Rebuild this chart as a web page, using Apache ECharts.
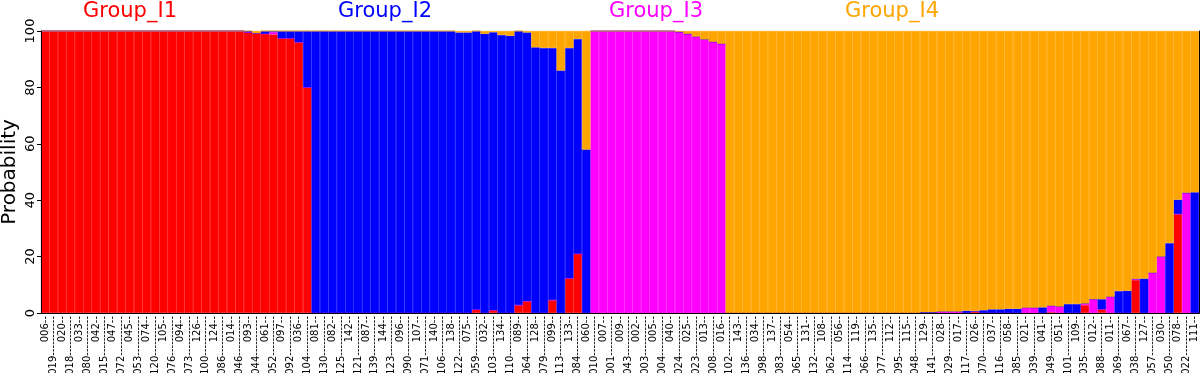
<!DOCTYPE html>
<html>
<head>
<meta charset="utf-8">
<script src="https://cdn.jsdelivr.net/npm/echarts@6/dist/echarts.min.js"></script>
<style>
  html, body { margin: 0; padding: 0; background: #fff; }
  #chart { width: 1200px; height: 373px; }
</style>
</head>
<body>
<div id="chart"></div>
<script>
// sample order as on the x axis
const samples = [
  "006","019","020","018","033","080","042","015","047","072",
  "045","053","074","120","105","076","094","073","126","100",
  "124","086","014","046","093","044","061","052","097","092",
  "036","104","081","130","082","125","142","121","087","139",
  "144","123","096","090","107","071","140","106","138","122",
  "075","059","032","103","134","110","089","064","128","079",
  "099","113","133","084","060","010","007","001","009","043",
  "002","003","005","004","040","024","025","023","013","008",
  "016","102","143","136","034","098","137","083","054","065",
  "131","132","108","062","056","114","119","066","135","077",
  "112","095","115","048","129","141","028","029","017","117",
  "026","070","037","116","058","085","021","039","041","049",
  "051","101","109","035","012","088","011","069","067","038",
  "127","057","030","050","078","022","111"
];

// membership probability (%) per cluster
const red = [
  100,100,100,100,100,100,100,100,100,100,
  100,100,100,100,100,100,100,100,100,100,
  100,100,100,100,99.5,99.2,99,98.8,97.4,97.4,
  96,80,0,0,0,0,0,0,0,0,
  0,0,0,0,0,0,0,0,0,0,
  0,1.2,0,1,0,0,2.8,4.2,0,0,
  4.6,0,12.3,21,0,0,0,0,0,0,
  0,0,0,0,0,0,0,0,0,0,
  0,0,0,0,0,0,0,0,0,0,
  0,0,0,0,0,0,0,0,0,0,
  0,0,0,0,0,0,0,0,0,0,
  0.5,0,0,0,0,0,0,0,0,0.3,
  0,0,0,2.8,0,1.3,0,0,0,11.7,
  0,0,0,0,35.1,0,0
];
const magenta = [
  0,0,0,0,0,0,0,0,0,0,
  0,0,0,0,0,0,0,0,0,0,
  0,0,0,0,0,0,0,0.8,0,0,
  0,0,0,0,0,0,0,0,0,0,
  0,0,0,0,0,0,0,0,0,0,
  0,0,0,0,0,0,0,0,0,0,
  0,0,0,0,0,100,100,100,100,100,
  100,100,100,100,100,99.7,99,98,97,96.2,
  95.5,0,0,0,0,0,0,0,0,0,
  0,0,0,0,0,0,0,0,0,0,
  0,0,0,0,0,0,0.5,0.5,0.5,0,
  0,0,0,0,0,0,1.9,1.9,0,2.3,
  2.3,0,0,0.6,4.9,0,5.8,0,0,0.4,
  0,14.3,20,0,0,42.6,0
];
const blue = [
  0,0,0,0,0,0,0,0,0,0,
  0,0,0,0,0,0,0,0,0,0,
  0,0,0,0,0.5,0,1,0.4,2.6,2.6,
  4,20,100,100,100,100,100,100,100,100,
  100,100,100,100,100,100,100,100,100,99.5,
  99.5,98.8,99,98.6,98.6,98.3,97.2,95.3,94.2,94,
  89.4,86,81.7,76.2,58,0,0,0,0,0,
  0,0,0,0,0,0,0,0,0,0,
  0,0,0,0,0,0,0,0,0,0,
  0,0,0,0,0,0,0,0,0,0,
  0,0,0,0,0.3,0.3,0,0,0,0.8,
  0.2,1,1.3,1.3,1.5,1.5,0,0,2,0,
  0,3.2,3.2,0,0,3.6,0,7.8,7.9,0,
  12.2,0,0,24.8,5.1,0,42.8
];
const orange = [
  0,0,0,0,0,0,0,0,0,0,
  0,0,0,0,0,0,0,0,0,0,
  0,0,0,0,0,0.8,0,0,0,0,
  0,0,0,0,0,0,0,0,0,0,
  0,0,0,0,0,0,0,0,0,0.5,
  0.5,0,1,0.4,1.4,1.7,0,0.5,5.8,6,
  6,14,6,2.8,42,0,0,0,0,0,
  0,0,0,0,0,0.3,1,2,3,3.8,
  4.5,100,100,100,100,100,100,100,100,100,
  100,100,100,100,100,100,100,100,100,100,
  100,100,100,100,99.7,99.7,99.5,99.5,99.5,99.2,
  99.3,99,98.7,98.7,98.5,98.5,98.1,98.1,98,97.4,
  97.7,96.8,96.8,96.6,95.1,95.1,94.2,92.2,92.1,87.9,
  87.8,85.7,80,75.2,59.8,57.4,57.2
];

const groups = [
  { name: "Group_I1", color: "#ff0000", x: 130 },
  { name: "Group_I2", color: "#0000ff", x: 385 },
  { name: "Group_I3", color: "#ff00ff", x: 656 },
  { name: "Group_I4", color: "#ffa500", x: 892 },
];

const font = "DejaVu Sans";

function barSeries(name, data, color) {
  return {
    name,
    type: "bar",
    stack: "p",
    data,
    barCategoryGap: "0%",
    itemStyle: { color, borderColor: color, borderWidth: 0.5 },
    silent: true,
  };
}

const chart = echarts.init(document.getElementById("chart"));
chart.setOption({
  animation: false,
  textStyle: { fontFamily: font },
  grid: { left: 41, right: 1, top: 31, bottom: 60, outerBoundsMode: "none", containLabel: false },
  xAxis: [
    {
      type: "category",
      data: samples,
      z: 10,
      axisLine: { lineStyle: { color: "#000", width: 1 } },
      axisTick: { alignWithLabel: true, length: 3, lineStyle: { color: "#000" } },
      axisLabel: {
        interval: 0,
        rotate: 90,
        fontSize: 10,
        fontFamily: font,
        color: "#000",
        margin: 3,
        formatter: (v, i) => (i % 2 === 0 ? v + "--" : v + "-----------"),
      },
    },
    {
      type: "category",
      data: samples,
      position: "top",
      z: 10,
      axisLine: { lineStyle: { color: "#000", width: 1 } },
      axisTick: { show: false },
      axisLabel: { show: false },
    },
  ],
  yAxis: [
    {
      type: "value",
      min: 0,
      max: 100,
      interval: 20,
      z: 10,
      name: "Probability",
      nameLocation: "middle",
      nameGap: 21,
      nameMoveOverlap: false,
      nameTextStyle: { fontSize: 20, color: "#000", fontFamily: font },
      axisLine: { show: true, lineStyle: { color: "#000", width: 1 } },
      axisTick: { show: true, length: 4, lineStyle: { color: "#000" } },
      axisLabel: { rotate: 90, fontSize: 13, color: "#000", margin: 4, fontFamily: font },
      splitLine: { show: false },
    },
    {
      type: "value",
      min: 0,
      max: 100,
      position: "right",
      z: 10,
      axisLine: { show: true, lineStyle: { color: "#000", width: 1 } },
      axisTick: { show: false },
      axisLabel: { show: false },
      splitLine: { show: false },
    },
  ],
  series: [
    barSeries("K1", red, "#ff0000"),
    barSeries("K3", magenta, "#ff00ff"),
    barSeries("K2", blue, "#0000ff"),
    barSeries("K4", orange, "#ffa500"),
  ],
  graphic: groups.map((g) => ({
    type: "text",
    x: g.x,
    y: 1,
    style: {
      text: g.name,
      fill: g.color,
      font: "21px '" + font + "'",
      textAlign: "center",
      textVerticalAlign: "top",
    },
  })),
});
</script>
</body>
</html>
